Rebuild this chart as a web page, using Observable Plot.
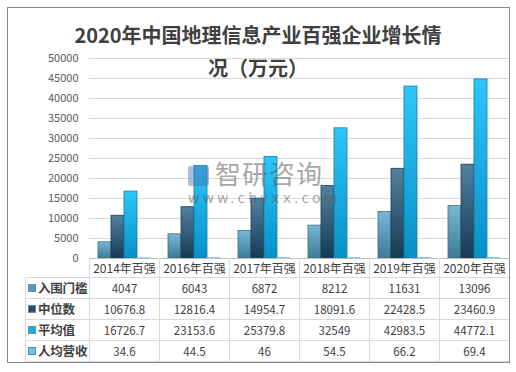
<!DOCTYPE html>
<html><head><meta charset="utf-8">
<script src="https://cdn.jsdelivr.net/npm/d3@7"></script>
<script src="https://cdn.jsdelivr.net/npm/@observablehq/plot@0.6"></script>
<style>
body{margin:0;background:#fff;font-family:"Noto Sans CJK SC","Noto Sans",sans-serif;}
#wrap{position:relative;width:516px;height:372px;overflow:hidden;background:#fff;}
#frame{position:absolute;left:7px;top:7px;width:501px;height:354px;border:1px solid #8a8a8a;pointer-events:none;}
.title{position:absolute;left:0;width:516px;text-align:center;font-weight:bold;font-size:20px;color:#404040;line-height:24px;white-space:nowrap;}
#chart{position:absolute;left:0;top:0;}
table.dt{position:absolute;left:25px;top:258px;border-collapse:collapse;table-layout:fixed;width:484px;font-size:11.5px;color:#404040;}
table.dt td{border:1px solid #d9d9d9;text-align:center;padding:0;height:20px;line-height:20px;white-space:nowrap;overflow:visible;}
table.dt tr.h td{height:19px;line-height:19px;font-size:12px;border-top:none;}
table.dt tr.h td.blank{border-left:none;}
table.dt td.lab{text-align:left;padding-left:2px;font-size:12.5px;font-weight:bold;letter-spacing:-0.2px;}
.sq{display:inline-block;width:6px;height:6px;margin-right:2px;vertical-align:1px;border:0.5px solid #6a8a9a;}
#wm{position:absolute;left:188px;top:160px;color:rgba(90,90,90,0.55);pointer-events:none;}
#wm .cn{font-size:26px;line-height:26px;letter-spacing:1px;}
#wm .en{font-size:14px;line-height:14px;letter-spacing:3px;margin-top:5px;font-family:"DejaVu Sans",sans-serif;}
#wm .ic{display:inline-block;width:21px;height:20px;margin-right:6px;vertical-align:-2px;background:rgba(70,110,170,0.45);border-radius:2px;}
</style></head><body><div id="wrap"></div>
<script>
// ---- data ----
const categories = ["2014年百强","2016年百强","2017年百强","2018年百强","2019年百强","2020年百强"];
const seriesNames = ["入围门槛","中位数","平均值","人均营收"];
const threshold = [4047, 6043, 6872, 8212, 11631, 13096];
const medianVal = [10676.8, 12816.4, 14954.7, 18091.6, 22428.5, 23460.9];
const meanVal = [16726.7, 23153.6, 25379.8, 32549, 42983.5, 44772.1];
const revenuePerCapita = [34.6, 44.5, 46, 54.5, 66.2, 69.4];
const yTicks = [0,5000,10000,15000,20000,25000,30000,35000,40000,45000,50000];
const titleLines = ["2020年中国地理信息产业百强企业增长情", "况（万元）"];

const seriesValues = [threshold, medianVal, meanVal, revenuePerCapita];
const rows = [];
categories.forEach((c,i)=>seriesValues.forEach((arr,j)=>rows.push({cat:c, series:seriesNames[j], value:arr[i]})));

// ---- styles ----
const grads = [
  {id:"g0", top:"#78b8d4", bot:"#3e7a98", stroke:"#396e89", swatch:"#5b9aba"},
  {id:"g1", top:"#52819f", bot:"#163a55", stroke:"#1a3a52", swatch:"#24506e"},
  {id:"g2", top:"#2ec6fa", bot:"#0890c6", stroke:"#0b7eae", swatch:"#16aee6"},
  {id:"g3", top:"#62cdee", bot:"#48bfe4", stroke:"#5ab9d8", swatch:"#5ccaee"}
];

const wrap = document.getElementById("wrap");

const chart = Plot.plot({
  width:516, height:259, marginLeft:89, marginRight:7, marginTop:58, marginBottom:1,
  style:{fontFamily:'"Noto Sans CJK SC","Noto Sans",sans-serif', fontSize:"11px", color:"#595959", background:"transparent", overflow:"visible"},
  fx:{domain:categories, padding:0, axis:null, label:null},
  x:{domain:seriesNames, paddingInner:0, paddingOuter:0.69, axis:null, label:null},
  y:{domain:[0,50000], axis:null, label:null},
  marks:[
    Plot.gridY(yTicks, {stroke:"#d9d9d9", strokeOpacity:1}),
    Plot.axisY(yTicks, {tickSize:0, tickPadding:11, tickFormat:"d", label:null, fill:"#595959", fontSize:11}),
    ...seriesNames.map((s,j)=>Plot.barY(rows.filter(d=>d.series===s), {fx:"cat", x:"series", y:"value", fill:`url(#${grads[j].id})`, stroke:grads[j].stroke, strokeWidth:0.8})),
    Plot.ruleY([0], {stroke:"#bfbfbf"})
  ]
});
chart.id = "chart";
const ns = "http://www.w3.org/2000/svg";
const defs = document.createElementNS(ns, "defs");
grads.forEach(g=>{
  const lg = document.createElementNS(ns, "linearGradient");
  lg.setAttribute("id", g.id); lg.setAttribute("x1","0"); lg.setAttribute("y1","0"); lg.setAttribute("x2","0"); lg.setAttribute("y2","1");
  [[0,g.top],[1,g.bot]].forEach(([o,c])=>{const st=document.createElementNS(ns,"stop"); st.setAttribute("offset",o); st.setAttribute("stop-color",c); lg.appendChild(st);});
  defs.appendChild(lg);
});
chart.insertBefore(defs, chart.firstChild);
wrap.appendChild(chart);

// ---- data table ----
const table = document.createElement("table");
table.className = "dt";
const cg = document.createElement("colgroup");
[64,70,70,70,70,70,70].forEach(w=>{const c=document.createElement("col"); c.style.width=w+"px"; cg.appendChild(c);});
table.appendChild(cg);
const hr = document.createElement("tr"); hr.className="h";
const blank = document.createElement("td"); blank.className="blank"; blank.style.borderBottom="1px solid #d9d9d9"; hr.appendChild(blank);
categories.forEach(c=>{const td=document.createElement("td"); td.textContent=c; hr.appendChild(td);});
table.appendChild(hr);
seriesNames.forEach((s,j)=>{
  const tr = document.createElement("tr");
  const lab = document.createElement("td"); lab.className="lab";
  const sq = document.createElement("span"); sq.className="sq"; sq.style.background=grads[j].swatch;
  lab.appendChild(sq); lab.appendChild(document.createTextNode(s));
  tr.appendChild(lab);
  seriesValues[j].forEach(v=>{const td=document.createElement("td"); td.textContent=String(v); tr.appendChild(td);});
  table.appendChild(tr);
});
wrap.appendChild(table);

// ---- watermark ----
const wm = document.createElement("div"); wm.id="wm";
wm.innerHTML = '<div class="cn"><span class="ic"></span>智研咨询</div><div class="en">www.chyxx.com</div>';
wrap.appendChild(wm);

// ---- title ----
titleLines.forEach((t,i)=>{
  const d = document.createElement("div"); d.className="title"; d.textContent=t;
  d.style.top = (i===0 ? 23 : 56) + "px";
  wrap.appendChild(d);
});

const fr = document.createElement("div"); fr.id="frame"; wrap.appendChild(fr);
</script>
</body></html>
